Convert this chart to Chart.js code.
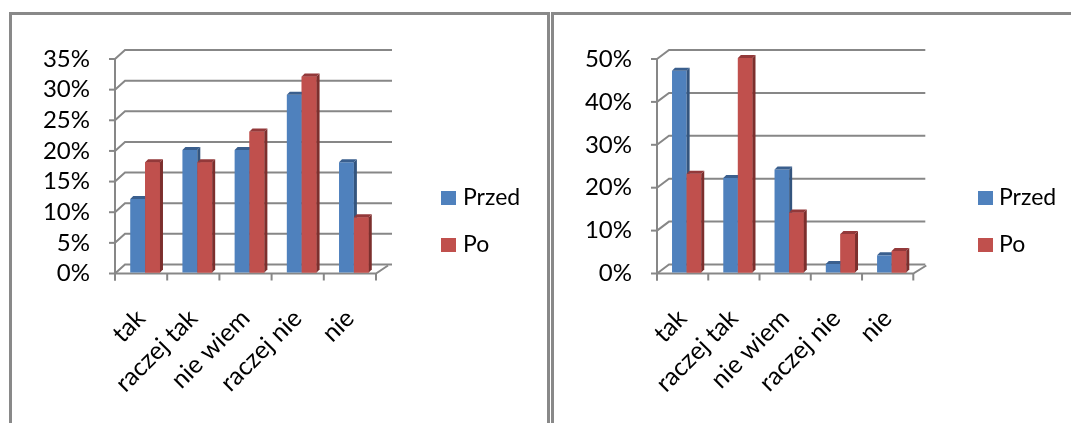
<!DOCTYPE html>
<html><head><meta charset="utf-8">
<script src="https://cdn.jsdelivr.net/npm/chart.js@4"></script>
<style>
html,body{margin:0;padding:0;background:#fff;overflow:hidden;width:1071px;height:423px;}
.box{position:absolute;box-sizing:border-box;border:3px solid #898989;background:#fff;}
#box1{left:9px;top:12px;width:541px;height:480px;}
#box2{left:551px;top:12px;width:560px;height:480px;}
canvas{position:absolute;}
.leg{position:absolute;font-family:Lato,sans-serif;font-size:23px;line-height:23px;color:#000;white-space:nowrap;}
.sw{position:absolute;width:15px;height:14px;}
</style></head><body>
<div class="box" id="box1"></div><div class="box" id="box2"></div>
<canvas id="c1" width="535" height="408" style="left:12px;top:15px"></canvas>
<canvas id="c2" width="517" height="408" style="left:554px;top:15px"></canvas>
<div id="legends"></div>
<script>
const categories = ['tak', 'raczej tak', 'nie wiem', 'raczej nie', 'nie'];
const seriesNames = ['Przed', 'Po'];
const przedLeft = [12, 20, 20, 29, 18];
const poLeft = [18, 18, 23, 32, 9];
const przedRight = [47, 22, 24, 2, 4];
const poRight = [23, 50, 14, 9, 5];
const yTicksLeft = [0, 5, 10, 15, 20, 25, 30, 35];
const yTicksRight = [0, 10, 20, 30, 40, 50];
const seriesColors = ['#4F81BD', '#C0504D'];
const sideColors = ['#34557E', '#7C2F2D'];
const topColors = ['#3A5F8E', '#93393A'];

const pseudo3d = {
  id: 'pseudo3d',
  beforeDatasetsDraw(chart, args, o) {
    const ctx = chart.ctx, xs = chart.scales.x, ys = chart.scales.y;
    const L = xs.left, R = xs.right, B = ys.getPixelForValue(0);
    ctx.save();
    ctx.strokeStyle = '#878787'; ctx.lineWidth = 2;
    ys.ticks.forEach(t => {
      const y = ys.getPixelForValue(t.value);
      ctx.beginPath();
      ctx.moveTo(L, y); ctx.lineTo(L + o.dx, y - o.dy); ctx.lineTo(R + o.gx, y - o.dy);
      ctx.stroke();
      ctx.beginPath(); ctx.moveTo(L - 6, y); ctx.lineTo(L, y); ctx.stroke();
    });
    ctx.beginPath(); ctx.moveTo(L, ys.top - 1); ctx.lineTo(L, B + 7); ctx.stroke();
    ctx.beginPath(); ctx.moveTo(L, B); ctx.lineTo(R, B); ctx.lineTo(R + o.fx, B - o.dy + 1); ctx.stroke();
    for (let i = 0; i <= xs.ticks.length; i++) {
      const x = xs.getPixelForValue(i - 0.5);
      ctx.beginPath(); ctx.moveTo(x, B); ctx.lineTo(x, B + 7); ctx.stroke();
    }
    ctx.restore();
    ctx.save();
    ctx.translate(o.bx, o.by);
  },
  afterDatasetsDraw(chart, args, o) {
    const ctx = chart.ctx;
    const faces = (meta, i) => {
      meta.data.forEach(el => {
        const p = el.getProps(['x', 'y', 'base', 'width'], true);
        const l = p.x - p.width / 2, r = p.x + p.width / 2, d = o.depth, e = o.depthY;
        ctx.fillStyle = sideColors[i];
        ctx.beginPath(); ctx.moveTo(r, p.y); ctx.lineTo(r + d, p.y - e); ctx.lineTo(r + d, p.base - e); ctx.lineTo(r, p.base); ctx.closePath(); ctx.fill();
        ctx.fillStyle = topColors[i];
        ctx.beginPath(); ctx.moveTo(l, p.y); ctx.lineTo(l + d, p.y - e); ctx.lineTo(r + d, p.y - e); ctx.lineTo(r, p.y); ctx.closePath(); ctx.fill();
      });
    };
    const m0 = chart.getDatasetMeta(0), m1 = chart.getDatasetMeta(1);
    faces(m0, 0);
    m1.data.forEach(el => el.draw(ctx));
    faces(m1, 1);
    ctx.restore();
  }
};

function makeChart(id, przed, po, yTicks, yMax, padRight, p3d) {
  new Chart(document.getElementById(id), {
    type: 'bar',
    data: {
      labels: categories,
      datasets: [
        { label: seriesNames[0], data: przed, backgroundColor: seriesColors[0], borderWidth: 0, clip: false, categoryPercentage: 0.57, barPercentage: 1 },
        { label: seriesNames[1], data: po, backgroundColor: seriesColors[1], borderWidth: 0, clip: false, categoryPercentage: 0.57, barPercentage: 1 }
      ]
    },
    options: {
      responsive: false, animation: false, events: [],
      layout: { padding: { top: 44, right: padRight, bottom: 0, left: 0 } },
      plugins: { legend: { display: false }, tooltip: { enabled: false }, pseudo3d: p3d },
      scales: {
        x: {
          grid: { display: false, drawTicks: false }, border: { display: false },
          ticks: { color: '#000', font: { family: 'Lato', size: 25 }, minRotation: 45, maxRotation: 45, autoSkip: false, padding: 30 },
          afterFit: s => { s.height = 149.5; }
        },
        y: {
          min: 0, max: yMax,
          grid: { display: false, drawTicks: false }, border: { display: false },
          afterBuildTicks: s => { s.ticks = yTicks.map(v => ({ value: v })); },
          ticks: { color: '#000', font: { family: 'Lato', size: 24 }, padding: 25, autoSkip: false, callback: v => v + '%' },
          afterFit: s => { s.width = 103; }
        }
      }
    },
    plugins: [pseudo3d]
  });
}

makeChart('c1', przedLeft, poLeft, yTicksLeft, 35, 171, { dx: 10, dy: 9, gx: 16, fx: 12, bx: 4, by: -1, depth: 3, depthY: 3 });
makeChart('c2', przedRight, poRight, yTicksRight, 50, 157.7, { dx: 12, dy: 9, gx: 12, fx: 13, bx: 4, by: -1, depth: 3, depthY: 3 });

// HTML legends
const legendPos = [{ x: 441, tx: 463 }, { x: 978, tx: 999 }];
const legRows = [{ sy: 191, ty: 185 }, { sy: 238, ty: 232 }];
let html = '';
legendPos.forEach(lp => {
  seriesNames.forEach((n, i) => {
    html += `<div class="sw" style="left:${lp.x}px;top:${legRows[i].sy}px;background:${seriesColors[i]}"></div>`;
    html += `<div class="leg" style="left:${lp.tx}px;top:${legRows[i].ty}px">${n}</div>`;
  });
});
document.getElementById('legends').innerHTML = html;
</script>
</body></html>
